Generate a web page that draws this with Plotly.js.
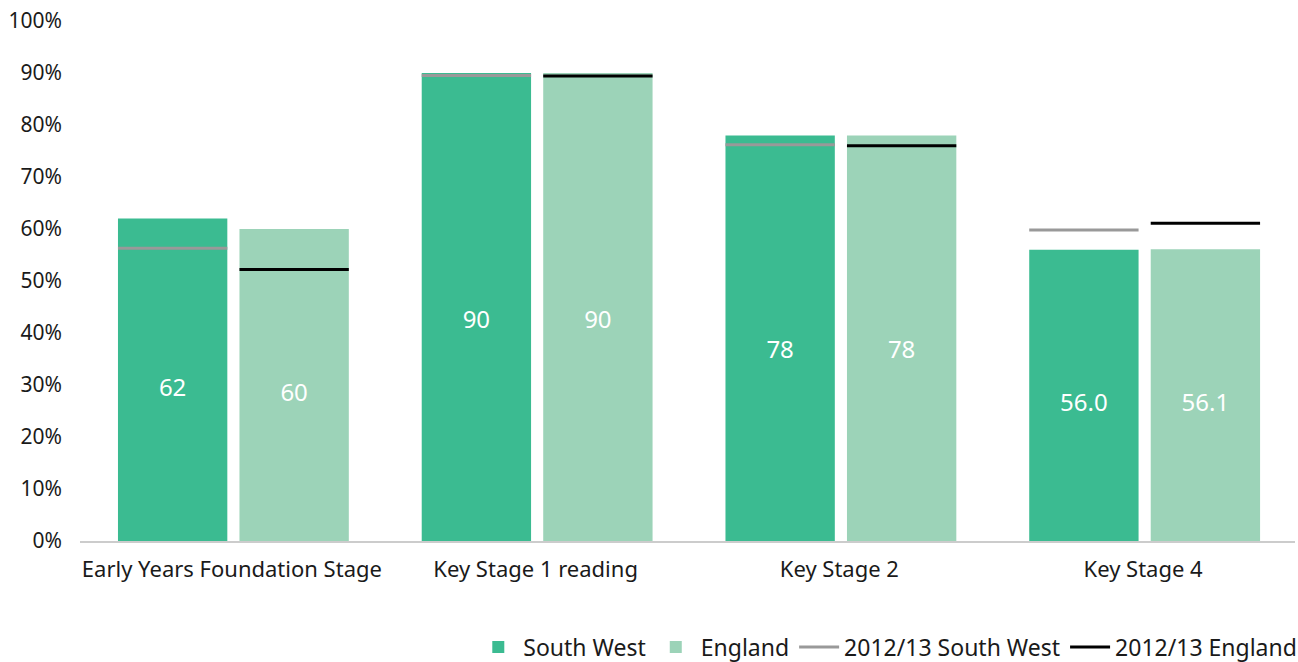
<!DOCTYPE html>
<html>
<head>
<meta charset="utf-8">
<script src="https://cdn.plot.ly/plotly-3.0.1.min.js"></script>
<style>html,body{margin:0;padding:0;background:#fff;}#chart{width:1298px;height:662px;}</style>
</head>
<body>
<div id="chart"></div>
<script>
const categories = ["Early Years Foundation Stage", "Key Stage 1 reading", "Key Stage 2", "Key Stage 4"];
const southWest = [62, 90, 78, 56.0];
const england = [60, 90, 78, 56.1];
const southWestLabels = ["62", "90", "78", "56.0"];
const englandLabels = ["60", "90", "78", "56.1"];
const prevSouthWest = [56.3, 89.5, 76.2, 59.8];
const prevEngland = [52.2, 89.4, 76.0, 61.1];
const yTicks = [0, 10, 20, 30, 40, 50, 60, 70, 80, 90, 100];

const idx = categories.map((_, i) => i);
const barW = 0.36;
const swOff = -0.375, enOff = 0.025;
const labelFrac = 0.467;

function segX(off) {
  const xs = [];
  idx.forEach(i => { xs.push(i + off, i + off + barW, null); });
  return xs;
}
function segY(vals) {
  const ys = [];
  vals.forEach(v => { ys.push(v, v, null); });
  return ys;
}

const font = "Noto Sans, Open Sans, sans-serif";

const traces = [
  {
    type: "bar", name: "South West", x: idx, y: southWest,
    offset: swOff, width: barW,
    marker: {color: "#3bbb91"}, hoverinfo: "skip"
  },
  {
    type: "bar", name: "England", x: idx, y: england,
    offset: enOff, width: barW,
    marker: {color: "#9cd3b8"}, hoverinfo: "skip"
  },
  {
    type: "scatter", mode: "lines", name: "2012/13 South West",
    x: segX(swOff), y: segY(prevSouthWest),
    line: {color: "#999999", width: 3}, connectgaps: false, hoverinfo: "skip"
  },
  {
    type: "scatter", mode: "lines", name: "2012/13 England",
    x: segX(enOff), y: segY(prevEngland),
    line: {color: "#000000", width: 3}, connectgaps: false, hoverinfo: "skip"
  },
  {
    type: "scatter", mode: "text", showlegend: false, hoverinfo: "skip",
    x: idx.map(i => i + swOff + barW / 2), y: southWest.map(v => v * labelFrac),
    text: southWestLabels, textposition: "middle center",
    textfont: {color: "#ffffff", size: 24, family: font}
  },
  {
    type: "scatter", mode: "text", showlegend: false, hoverinfo: "skip",
    x: idx.map(i => i + enOff + barW / 2), y: england.map(v => v * labelFrac),
    text: englandLabels, textposition: "middle center",
    textfont: {color: "#ffffff", size: 24, family: font}
  }
];

const layout = {
  width: 1298, height: 662,
  margin: {l: 80, r: 3, t: 21, b: 121, autoexpand: false},
  paper_bgcolor: "#ffffff", plot_bgcolor: "#ffffff",
  barmode: "overlay",
  showlegend: true,
  font: {family: font, color: "#1a1a1a", size: 21},
  xaxis: {
    range: [-0.5, 3.5], tickmode: "array", tickvals: idx, ticktext: categories,
    showgrid: false, zeroline: false, showline: true, linecolor: "#cccccc", linewidth: 2,
    ticks: "", tickfont: {size: 22, family: font, color: "#1a1a1a"},
    ticklabelstandoff: 8, fixedrange: true
  },
  yaxis: {
    range: [0, 100], tickmode: "array", tickvals: yTicks,
    ticktext: yTicks.map(v => v + "%"),
    showgrid: false, zeroline: false, showline: false, ticks: "",
    tickfont: {size: 21, family: font, color: "#1a1a1a"},
    ticklabelstandoff: 17, fixedrange: true
  },
  legend: {
    orientation: "h", x: 1.006, xanchor: "right", y: -0.204, yanchor: "middle",
    font: {size: 23, family: font, color: "#1a1a1a"},
    itemwidth: 40, traceorder: "normal"
  }
};

Plotly.newPlot("chart", traces, layout, {displayModeBar: false, staticPlot: true});
</script>
</body>
</html>
